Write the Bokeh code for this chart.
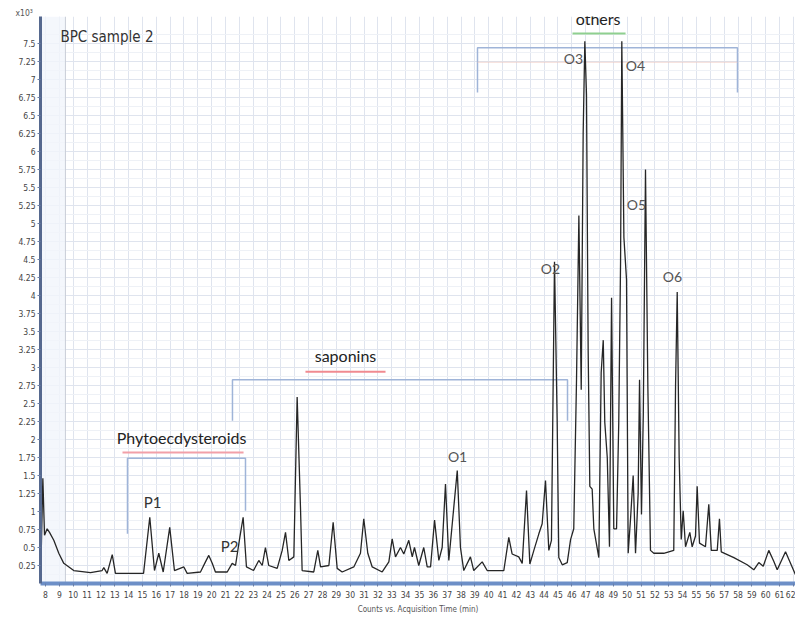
from bokeh.plotting import figure
from bokeh.models import FixedTicker, Label, BoxAnnotation, Span, Title
from bokeh.embed import file_html
from bokeh.resources import INLINE

# ---------------- data ----------------
time_min = [7.68, 7.81, 7.93, 8.12, 8.29, 8.60, 8.96, 9.32, 10.04, 11.25, 12.09, 12.21, 12.45,
            12.82, 13.05, 15.08, 15.53, 15.87, 16.18, 16.50, 16.97, 17.31, 17.99, 18.23, 19.19,
            19.55, 19.79, 20.04, 20.27, 21.12, 21.48, 21.72, 22.03, 22.27, 22.51, 23.02, 23.40,
            23.65, 23.88, 24.12, 24.73, 25.09, 25.33, 25.57, 25.93, 26.17, 26.41, 26.53, 27.37,
            27.66, 27.86, 28.46, 28.77, 29.06, 29.42, 30.26, 30.74, 30.98, 31.27, 31.59, 32.31,
            32.79, 33.03, 33.27, 33.63, 33.87, 34.23, 34.48, 34.64, 34.95, 35.31, 35.56, 35.80,
            36.09, 36.40, 36.64, 36.88, 37.12, 37.48, 37.73, 37.96, 38.20, 38.68, 38.92, 39.53,
            39.89, 41.09, 41.45, 41.69, 42.17, 42.42, 42.73, 42.97, 43.26, 43.62, 43.86, 44.10,
            44.34, 44.53, 44.75, 44.94, 45.06, 45.31, 45.67, 45.91, 46.14, 46.34, 46.51, 46.68,
            46.82, 46.94, 47.06, 47.18, 47.30, 47.47, 47.59, 47.95, 48.12, 48.27, 48.38, 48.56,
            48.72, 48.87, 49.03, 49.23, 49.39, 49.52, 49.61, 49.76, 49.95, 50.07, 50.24, 50.43,
            50.60, 50.79, 50.89, 51.03, 51.16, 51.32, 51.49, 51.68, 51.92, 52.64, 53.36, 53.49,
            53.61, 53.75, 53.90, 54.04, 54.21, 54.52, 54.69, 54.93, 55.05, 55.22, 55.65, 55.89,
            56.07, 56.50, 56.66, 56.79, 57.70, 58.66, 59.14, 59.50, 59.82, 60.22, 60.58, 60.83,
            61.43, 62.15]
counts_k = [0.32, 1.46, 0.67, 0.76, 0.71, 0.60, 0.42, 0.28, 0.18, 0.15, 0.18, 0.22, 0.14,
            0.40, 0.14, 0.14, 0.92, 0.18, 0.42, 0.16, 0.78, 0.18, 0.23, 0.14, 0.16,
            0.30, 0.39, 0.28, 0.16, 0.16, 0.28, 0.25, 0.64, 0.92, 0.23, 0.18, 0.32,
            0.25, 0.50, 0.25, 0.21, 0.46, 0.71, 0.32, 0.37, 2.59, 1.06, 0.18, 0.16,
            0.46, 0.23, 0.25, 0.85, 0.21, 0.16, 0.23, 0.42, 0.90, 0.42, 0.23, 0.16,
            0.30, 0.62, 0.37, 0.50, 0.41, 0.60, 0.37, 0.50, 0.25, 0.50, 0.23, 0.23,
            0.88, 0.32, 0.50, 1.38, 0.32, 1.06, 1.57, 0.50, 0.18, 0.37, 0.18, 0.30,
            0.18, 0.18, 0.64, 0.41, 0.37, 0.28, 1.29, 0.27, 0.46, 0.69, 0.83, 1.43,
            0.46, 0.60, 4.47, 2.29, 0.36, 0.26, 0.29, 0.61, 0.76, 2.83, 5.11, 2.69,
            6.25, 7.53, 6.79, 3.24, 1.35, 1.31, 0.76, 0.36, 2.93, 3.38, 2.24, 1.75,
            0.51, 3.97, 0.76, 0.76, 2.24, 4.47, 7.53, 4.81, 4.22, 0.42, 0.90, 1.50,
            0.42, 1.25, 2.83, 0.96, 2.34, 5.75, 2.74, 0.46, 0.42, 0.42, 0.46, 2.74,
            4.05, 1.75, 0.61, 1.01, 0.51, 0.71, 0.51, 0.66, 1.35, 0.56, 0.51, 1.10,
            0.46, 0.46, 0.90, 0.44, 0.36, 0.26, 0.19, 0.29, 0.24, 0.46, 0.31, 0.19,
            0.44, 0.12]

x_tick_values = [8, 9, 10, 11, 12, 13, 14, 15, 16, 17, 18, 19, 20, 21, 22, 23, 24, 25, 26, 27,
                 28, 29, 30, 31, 32, 33, 34, 35, 36, 37, 38, 39, 40, 41, 42, 43, 44, 45, 46, 47,
                 48, 49, 50, 51, 52, 53, 54, 55, 56, 57, 58, 59, 60, 61, 62]
y_tick_values = [0.25, 0.5, 0.75, 1, 1.25, 1.5, 1.75, 2, 2.25, 2.5, 2.75, 3, 3.25, 3.5, 3.75,
                 4, 4.25, 4.5, 4.75, 5, 5.25, 5.5, 5.75, 6, 6.25, 6.5, 6.75, 7, 7.25, 7.5]
y_tick_labels = ["0.25", "0.5", "0.75", "1", "1.25", "1.5", "1.75", "2", "2.25", "2.5", "2.75",
                 "3", "3.25", "3.5", "3.75", "4", "4.25", "4.5", "4.75", "5", "5.25", "5.5",
                 "5.75", "6", "6.25", "6.5", "6.75", "7", "7.25", "7.5"]
y_minor_values = [0.125, 0.375, 0.625, 0.875, 1.125, 1.375, 1.625, 1.875, 2.125, 2.375, 2.625,
                  2.875, 3.125, 3.375, 3.625, 3.875, 4.125, 4.375, 4.625, 4.875, 5.125, 5.375,
                  5.625, 5.875, 6.125, 6.375, 6.625, 6.875, 7.125, 7.375, 7.625]

peak_labels = ["P1", "P2", "O1", "O2", "O3", "O4", "O5", "O6"]
peak_label_x = [15.73, 21.29, 37.75, 44.46, 46.12, 50.60, 50.67, 53.27]
peak_label_y = [1.01, 0.39, 1.65, 4.26, 7.18, 7.07, 5.15, 4.15]

# ---------------- figure ----------------
TICK_FONT = "'DejaVu Sans Condensed', 'Liberation Sans Narrow', 'Liberation Sans', sans-serif"
ANN_FONT = "Lato"

p = figure(width=795, height=622, x_range=(7.64, 62.15), y_range=(0, 7.875),
           output_backend="svg", toolbar_location=None,
           min_border_left=40, min_border_right=0, min_border_top=16, min_border_bottom=39)
p.outline_line_color = None
p.background_fill_color = "white"

# scale factor label at the top of the y axis
p.add_layout(Title(text="x10³", align="left", offset=-25, standoff=-2,
                   text_font=TICK_FONT, text_font_size="8.5px", text_font_style="normal",
                   text_color="#555555"), "above")

# axes
p.xaxis.ticker = FixedTicker(ticks=x_tick_values)
p.yaxis.ticker = FixedTicker(ticks=y_tick_values, minor_ticks=y_minor_values)
p.yaxis.major_label_overrides = {v: s for v, s in zip(y_tick_values, y_tick_labels)}
for ax in (p.xaxis[0], p.yaxis[0]):
    ax.major_label_text_font = TICK_FONT
    ax.major_label_text_font_size = "8.5px"
    ax.major_label_text_color = "#444444"
    ax.major_tick_in = 0
    ax.major_tick_out = 3
    ax.minor_tick_in = 0
    ax.minor_tick_out = 0
    ax.major_tick_line_color = "#6a7fa8"
p.xaxis.axis_line_color = "#6d8fc7"
p.xaxis.axis_line_width = 4
p.yaxis.axis_line_color = "#56698f"
p.yaxis.axis_line_width = 3
p.xaxis.major_label_standoff = 4
p.yaxis.major_label_standoff = 2
p.xaxis.axis_label = "Counts vs. Acquisition Time (min)"
p.xaxis.axis_label_text_font = TICK_FONT
p.xaxis.axis_label_text_font_size = "8px"
p.xaxis.axis_label_text_font_style = "normal"
p.xaxis.axis_label_text_color = "#555555"
p.xaxis.axis_label_standoff = 4

# grid
p.xgrid.ticker = FixedTicker(ticks=x_tick_values)
p.xgrid.grid_line_color = "#dfe4ee"
p.ygrid.grid_line_color = "#dfe4ee"
p.ygrid.minor_grid_line_color = "#eef1f6"

# left pale band and darker line
p.add_layout(BoxAnnotation(left=7.64, right=9.44, fill_color="#f1f5fb", fill_alpha=0.8,
                           line_color=None, level="underlay"))
p.add_layout(Span(location=9.44, dimension="height", line_color="#c9ced8", line_width=1,
                  level="underlay"))

# annotation geometry (brackets / underlines)
brackets = {
    "phyto": ([13.92, 13.92, 22.44, 22.44], [0.69, 1.74, 1.74, 1.01]),
    "sapon": ([21.50, 21.50, 45.69, 45.69], [2.26, 2.83, 2.83, 2.26]),
    "others": ([39.19, 39.19, 57.96, 57.96], [6.82, 7.44, 7.44, 6.82]),
}
for xs, ys in brackets.values():
    p.line(xs, ys, line_color="#9fb4d8", line_width=1.5)
p.line([39.19, 57.96], [7.24, 7.24], line_color="#f0c8c0", line_width=1, line_alpha=0.7)

underlines = [
    ([13.56, 22.30], [1.82, 1.82], "#f2a0a8"),
    ([26.77, 32.55], [2.94, 2.94], "#f08a90"),
    ([46.05, 49.88], [7.64, 7.64], "#8fd08f"),
]
for xs, ys, c in underlines:
    p.line(xs, ys, line_color=c, line_width=2)

# chromatogram trace
p.line(time_min, counts_k, line_color="#262626", line_width=1.3)

# texts
p.add_layout(Label(x=9.08, y=7.46, text="BPC sample 2", text_font=TICK_FONT,
                   text_font_size="15px", text_color="#333333", text_align="left"))
p.add_layout(Label(x=17.82, y=1.90, text="Phytoecdysteroids", text_font=ANN_FONT,
                   text_font_size="16px", text_color="#222222", text_align="center"))
p.add_layout(Label(x=29.66, y=3.04, text="saponins", text_font=ANN_FONT,
                   text_font_size="16px", text_color="#222222", text_align="center"))
p.add_layout(Label(x=47.9, y=7.72, text="others", text_font=ANN_FONT,
                   text_font_size="16px", text_color="#222222", text_align="center"))
for t, x, y in zip(peak_labels, peak_label_x, peak_label_y):
    dark = t.startswith("P")
    p.add_layout(Label(x=x, y=y, text=t, text_font=ANN_FONT,
                       text_font_size="15px" if dark else "14px",
                       text_color="#333333" if dark else "#555555", text_align="center"))

open("out.html", "w").write(file_html(p, INLINE))
